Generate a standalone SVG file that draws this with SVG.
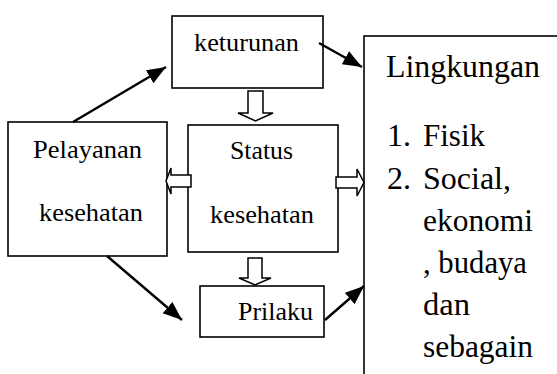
<svg xmlns="http://www.w3.org/2000/svg" width="557" height="374" viewBox="0 0 557 374">
<style>
.box{fill:#fff;stroke:#000;stroke-width:1.6}
.blk{fill:#fff;stroke:#000;stroke-width:1.5;stroke-linejoin:miter}
.c{stroke:#000;stroke-width:2.4;fill:none}
text{font-family:'Liberation Serif','Times New Roman','DejaVu Serif',serif;fill:#000}
</style>
<defs>
<marker id="ah" markerUnits="userSpaceOnUse" markerWidth="20" markerHeight="16" refX="19" refY="7.5" orient="auto">
<path d="M0,0 L19,7.5 L0,15 z" fill="#000"/>
</marker>
</defs>
<g id="lingkungan" font-size="32">
<rect class="box" x="364" y="36" width="220" height="400"/>
<text x="386" y="77" textLength="154" lengthAdjust="spacingAndGlyphs">Lingkungan</text>
<text x="387" y="146">1.</text>
<text x="423" y="146" textLength="62" lengthAdjust="spacingAndGlyphs">Fisik</text>
<text x="387" y="189">2.</text>
<text x="423" y="189" textLength="88" lengthAdjust="spacingAndGlyphs">Social,</text>
<text x="423" y="231" textLength="110" lengthAdjust="spacingAndGlyphs">ekonomi</text>
<text x="423" y="273" textLength="104" lengthAdjust="spacingAndGlyphs">, budaya</text>
<text x="423" y="315" textLength="47" lengthAdjust="spacingAndGlyphs">dan</text>
<text x="423" y="357" textLength="110" lengthAdjust="spacingAndGlyphs">sebagain</text>
</g>
<g id="keturunan" font-size="26">
<rect class="box" x="172" y="16" width="151" height="72"/>
<text x="194" y="51" textLength="105" lengthAdjust="spacingAndGlyphs">keturunan</text>
</g>
<g id="pelayanan" font-size="26">
<rect class="box" x="8" y="122" width="159" height="134"/>
<text x="33" y="158" textLength="109" lengthAdjust="spacingAndGlyphs">Pelayanan</text>
<text x="39" y="221" textLength="104" lengthAdjust="spacingAndGlyphs">kesehatan</text>
</g>
<g id="status" font-size="26">
<rect class="box" x="188" y="125" width="150" height="127"/>
<text x="230" y="159" textLength="63" lengthAdjust="spacingAndGlyphs">Status</text>
<text x="210" y="223" textLength="104" lengthAdjust="spacingAndGlyphs">kesehatan</text>
</g>
<g id="prilaku" font-size="26">
<rect class="box" x="200" y="286" width="124" height="51"/>
<text x="238" y="320" textLength="75" lengthAdjust="spacingAndGlyphs">Prilaku</text>
</g>
<g id="connectors">
<line class="c" x1="73" y1="122" x2="166" y2="67" marker-end="url(#ah)"/>
<line class="c" x1="319" y1="43" x2="362" y2="67" marker-end="url(#ah)"/>
<line class="c" x1="107" y1="256" x2="182" y2="320" marker-end="url(#ah)"/>
<line class="c" x1="325" y1="320" x2="364" y2="286" marker-end="url(#ah)"/>
<polygon class="blk" points="248,91 263,91 263,113 273,113 255.5,121 238,113 248,113"/>
<polygon class="blk" points="248,258 262,258 262,278 271,278 255,285 239,278 248,278"/>
<polygon class="blk" points="191,175 191,187 171,187 171,194 166,181 171,168 171,175"/>
<polygon class="blk" points="336,177 357,177 357,169 364,182.5 357,196 357,188 336,188"/>
</g>
</svg>
